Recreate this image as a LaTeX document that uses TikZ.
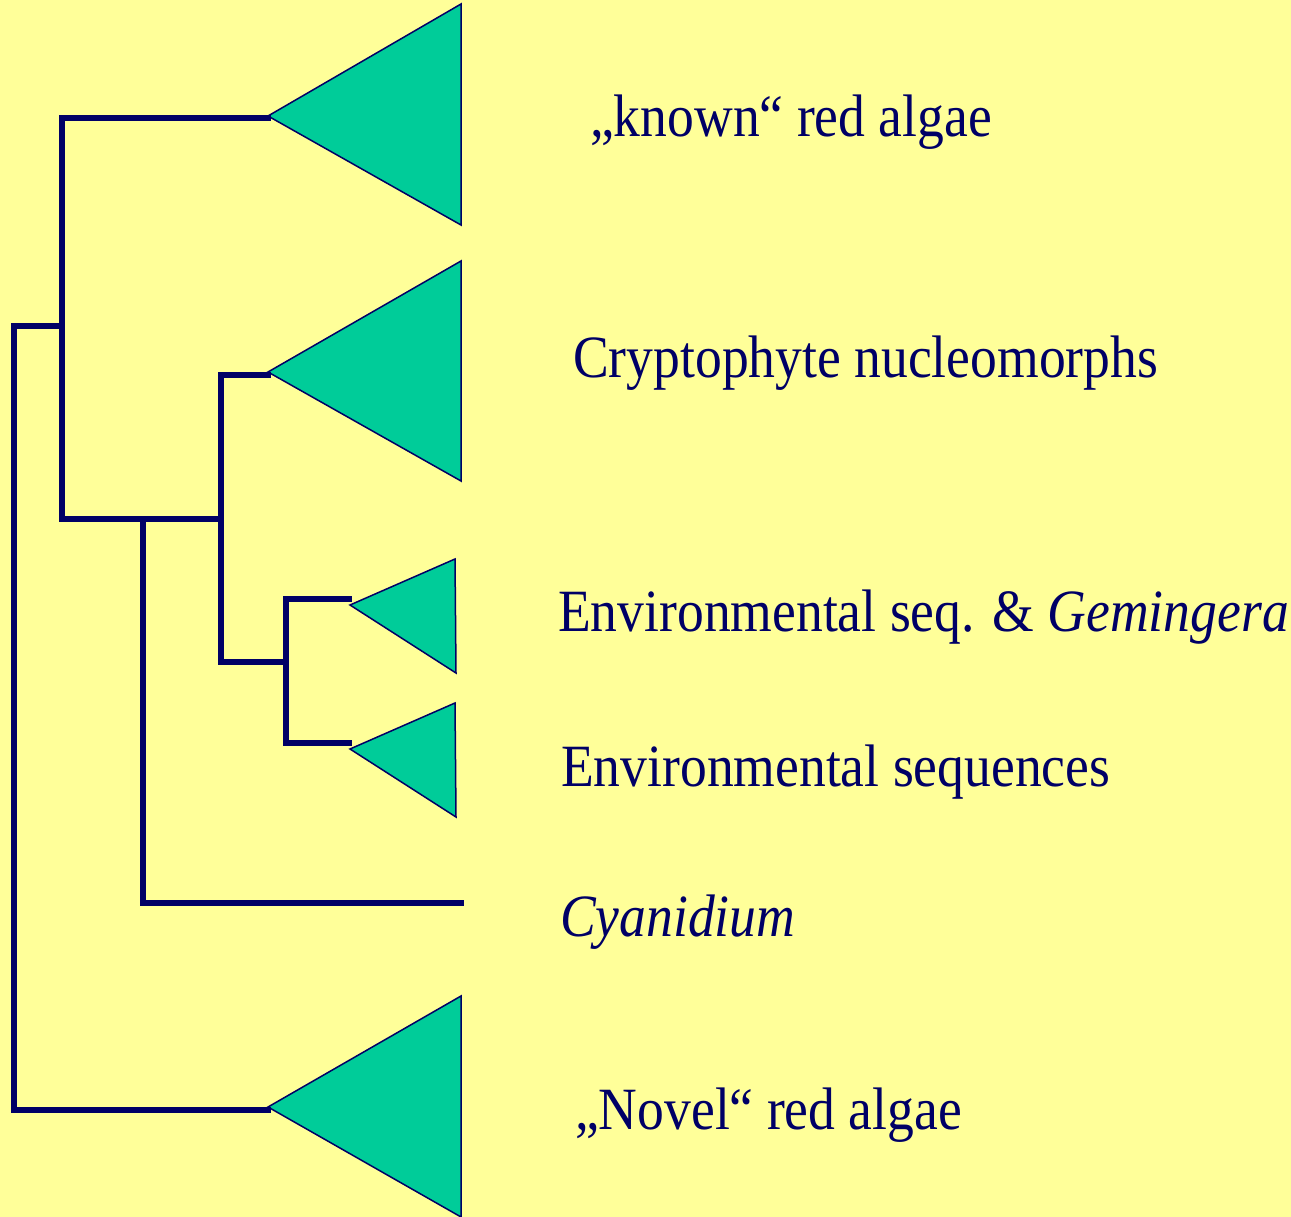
\documentclass[tikz,border=0pt]{standalone}
\usepackage{fontspec}
\setmainfont{Liberation Serif}
\definecolor{bgyellow}{HTML}{FFFF99}
\definecolor{navy}{HTML}{000066}
\definecolor{cladefill}{HTML}{00CC99}
\tikzset{
  branch/.style={draw=navy, line width=5.5pt, line cap=rect},
  clade/.style={draw=navy, line width=1.5pt, fill=cladefill, line join=miter},
  lab/.style={anchor=base west, inner sep=0pt, text=navy, font=\fontsize{60}{60}\selectfont, xscale=0.893, transform shape},
}
\begin{document}
\begin{tikzpicture}[x=1pt,y=-1pt]
\fill[bgyellow] (0,0) rectangle (1291,1217);
\useasboundingbox (0,0) rectangle (1291,1217);

% internal node coordinates
\coordinate (root) at (14,326);
\coordinate (rootb) at (14,1110);
\coordinate (n1t) at (62,118);
\coordinate (n1m) at (62,326);
\coordinate (n1b) at (62,519);
\coordinate (n2m) at (143,519);
\coordinate (n2b) at (143,903);
\coordinate (n3t) at (221,375);
\coordinate (n3m) at (221,519);
\coordinate (n3b) at (221,662);
\coordinate (n4t) at (286,599);
\coordinate (n4m) at (286,662);
\coordinate (n4b) at (286,743);
\coordinate (tipA) at (268,118);
\coordinate (tipB) at (268,375);
\coordinate (tipC) at (349,599);
\coordinate (tipD) at (349,743);
\coordinate (tipE) at (268,1110);
\coordinate (cyan) at (461,903);

% clades (triangles)
\path[clade] (268,116) -- (461,4) -- (461,225) -- cycle;
\path[clade] (268,372) -- (461,261) -- (461,481) -- cycle;
\path[clade] (350,605) -- (455,559) -- (456,673) -- cycle;
\path[clade] (350,749) -- (455,703) -- (456,817) -- cycle;
\path[clade] (268,1107) -- (461,996) -- (461,1217) -- cycle;

% branches
\draw[branch] (n1m) -- (root) -- (rootb) -- (tipE);
\draw[branch] (tipA) -- (n1t) -- (n1b) -- (n3m);
\draw[branch] (n2m) -- (n2b) -- (cyan);
\draw[branch] (tipB) -- (n3t) -- (n3b) -- (n4m);
\draw[branch] (tipC) -- (n4t) -- (n4b) -- (tipD);

% labels
\node[lab] (lA) at (590,137) {„known“ red algae};
\node[lab] (lB) at (573,377) {Cryptophyte nucleomorphs};
\node[lab] (lC) at (558,631) {Environmental seq. \& \textit{Gemingera}};
\node[lab] (lD) at (561,786) {Environmental sequences};
\node[lab] (lE) at (560,936) {\textit{Cyanidium}};
\node[lab] (lF) at (575,1129) {„Novel“ red algae};
\end{tikzpicture}
\end{document}
